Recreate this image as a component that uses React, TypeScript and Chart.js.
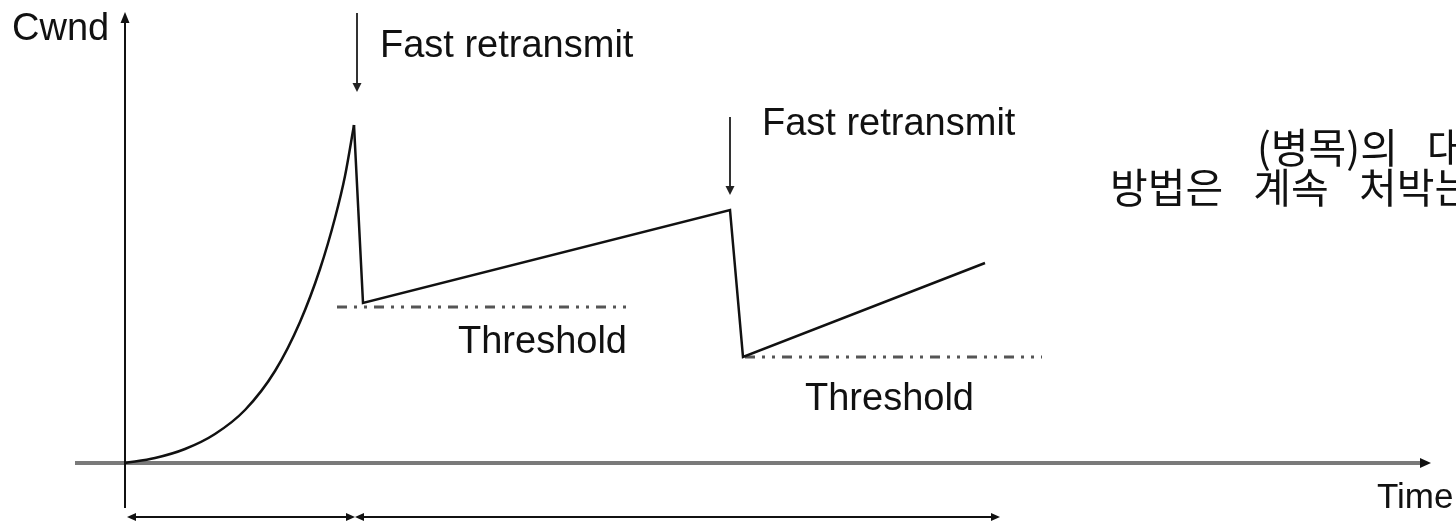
import { useEffect, useRef } from "react";
import { Chart, registerables } from "chart.js";

Chart.register(...registerables);

// Slow start (exponential growth) — time vs. cwnd, origin at the axes crossing
const slowStartTime = [0, 30, 60, 90, 120, 150, 175, 195, 210, 220, 229];
const slowStartCwnd = [0, 5, 14, 29, 53, 92, 141, 194, 245, 287, 338];

// Fast retransmit / congestion avoidance sawtooth
const sawTime = [229, 238, 605, 618, 860];
const sawCwnd = [338, 160, 253, 106, 200];

// Threshold levels
const threshold1Time = [212, 508];
const threshold1Cwnd = [156, 156];
const threshold2Time = [620, 917];
const threshold2Cwnd = [106, 106];

// Annotation texts
const yAxisLabel = "Cwnd";
const xAxisLabel = "Time";
const fastRetransmitLabel = "Fast retransmit";
const thresholdLabel = "Threshold";
const koreanLines = ["(병목)의 대역폭을", "방법은 계속 처박는"];

const toPoints = (xs: number[], ys: number[]) => xs.map((x, i) => ({ x, y: ys[i] }));

const LATIN = '"Liberation Sans", Arial, Helvetica, sans-serif';
const KOREAN = '"Noto Sans CJK KR", "Noto Sans", sans-serif';

function arrowHead(ctx: CanvasRenderingContext2D, x: number, y: number, dx: number, dy: number, len: number, half: number, color: string) {
  const l = Math.hypot(dx, dy);
  const ux = dx / l, uy = dy / l;
  ctx.save();
  ctx.fillStyle = color;
  ctx.beginPath();
  ctx.moveTo(x, y);
  ctx.lineTo(x - ux * len - uy * half, y - uy * len + ux * half);
  ctx.lineTo(x - ux * len + uy * half, y - uy * len - ux * half);
  ctx.closePath();
  ctx.fill();
  ctx.restore();
}

function spacedText(ctx: CanvasRenderingContext2D, text: string, x: number, y: number, extra: number) {
  const words = text.split(" ");
  const sp = ctx.measureText(" ").width + extra;
  let cx = x;
  for (const w of words) {
    ctx.fillText(w, cx, y);
    cx += ctx.measureText(w).width + sp;
  }
}

const diagramPlugin = {
  id: "diagram",
  beforeDraw(chart: any) {
    const ctx = chart.ctx as CanvasRenderingContext2D;
    ctx.save();
    ctx.fillStyle = "#ffffff";
    ctx.fillRect(0, 0, chart.width, chart.height);
    ctx.restore();
  },
  beforeDatasetsDraw(chart: any) {
    const ctx = chart.ctx as CanvasRenderingContext2D;
    const xs = chart.scales.x, ys = chart.scales.y;
    const X = (v: number) => xs.getPixelForValue(v);
    const Y = (v: number) => ys.getPixelForValue(v);
    ctx.save();
    // horizontal (time) axis
    ctx.strokeStyle = "#7a7a7a";
    ctx.lineWidth = 4;
    ctx.beginPath();
    ctx.moveTo(X(-50), Y(0));
    ctx.lineTo(X(1297), Y(0));
    ctx.stroke();
    arrowHead(ctx, X(1306), Y(0), 1, 0, 11, 5, "#111");
    // vertical (cwnd) axis
    ctx.strokeStyle = "#111";
    ctx.lineWidth = 2;
    ctx.beginPath();
    ctx.moveTo(X(0), Y(-45));
    ctx.lineTo(X(0), Y(442));
    ctx.stroke();
    arrowHead(ctx, X(0), Y(451), 0, -1, 11, 4.5, "#111");
    ctx.restore();
  },
  afterDatasetsDraw(chart: any) {
    const ctx = chart.ctx as CanvasRenderingContext2D;
    const xs = chart.scales.x, ys = chart.scales.y;
    const X = (v: number) => xs.getPixelForValue(v);
    const Y = (v: number) => ys.getPixelForValue(v);
    ctx.save();

    // fast retransmit arrows
    const fr = [
      { t: 232, top: 450, bottom: 371, lt: 255, lc: 406 },
      { t: 605, top: 346, bottom: 268, lt: 637, lc: 328 },
    ];
    ctx.strokeStyle = "#333";
    ctx.lineWidth = 2;
    for (const a of fr) {
      ctx.beginPath();
      ctx.moveTo(X(a.t), Y(a.top));
      ctx.lineTo(X(a.t), Y(a.bottom) - 8);
      ctx.stroke();
      arrowHead(ctx, X(a.t), Y(a.bottom), 0, 1, 9, 4.5, "#222");
    }

    // duration arrows below the time axis
    const spans = [
      [2, 230],
      [230, 875],
    ];
    ctx.strokeStyle = "#111";
    ctx.lineWidth = 2;
    for (const [a, b] of spans) {
      ctx.beginPath();
      ctx.moveTo(X(a) + 6, Y(-54));
      ctx.lineTo(X(b) - 6, Y(-54));
      ctx.stroke();
      arrowHead(ctx, X(a), Y(-54), -1, 0, 9, 4, "#111");
      arrowHead(ctx, X(b), Y(-54), 1, 0, 9, 4, "#111");
    }

    // texts
    ctx.fillStyle = "#111";
    ctx.textBaseline = "alphabetic";
    ctx.textAlign = "left";
    ctx.font = `38px ${LATIN}`;
    ctx.fillText(yAxisLabel, X(-113), Y(423));
    ctx.fillText(fastRetransmitLabel, X(fr[0].lt), Y(fr[0].lc));
    ctx.fillText(fastRetransmitLabel, X(fr[1].lt), Y(fr[1].lc));
    ctx.fillText(thresholdLabel, X(333), Y(110));
    ctx.fillText(thresholdLabel, X(680), Y(53));
    ctx.font = `35px ${LATIN}`;
    ctx.fillText(xAxisLabel, X(1252), Y(-45));

    ctx.font = `41px ${KOREAN}`;
    spacedText(ctx, koreanLines[0], X(1132), Y(300), 20);
    spacedText(ctx, koreanLines[1], X(985), Y(260), 21);
    ctx.restore();
  },
};

export default function App() {
  const ref = useRef<HTMLCanvasElement>(null);
  useEffect(() => {
    if (!ref.current) return;
    const lineStyle = {
      showLine: true,
      pointRadius: 0,
      pointHoverRadius: 0,
      fill: false,
    };
    const chart = new Chart(ref.current, {
      type: "scatter",
      data: {
        datasets: [
          {
            ...lineStyle,
            label: "slow start",
            data: toPoints(slowStartTime, slowStartCwnd),
            borderColor: "#111",
            borderWidth: 2.5,
            cubicInterpolationMode: "monotone",
          },
          {
            ...lineStyle,
            label: "congestion avoidance",
            data: toPoints(sawTime, sawCwnd),
            borderColor: "#111",
            borderWidth: 2.5,
            tension: 0,
            borderJoinStyle: "miter",
          },
          {
            ...lineStyle,
            label: "threshold 1",
            data: toPoints(threshold1Time, threshold1Cwnd),
            borderColor: "#555",
            borderWidth: 3,
            borderDash: [10, 7, 3, 7, 3, 7],
          },
          {
            ...lineStyle,
            label: "threshold 2",
            data: toPoints(threshold2Time, threshold2Cwnd),
            borderColor: "#555",
            borderWidth: 3,
            borderDash: [10, 7, 3, 7, 3, 7],
          },
        ] as any,
      },
      options: {
        responsive: false,
        animation: false,
        events: [],
        layout: { padding: 0 },
        plugins: {
          legend: { display: false },
          tooltip: { enabled: false },
        },
        scales: {
          x: { type: "linear", display: false, min: -125, max: 1331 },
          y: { type: "linear", display: false, min: -61, max: 463 },
        },
      },
      plugins: [diagramPlugin],
    });
    return () => chart.destroy();
  }, []);
  return (
    <div
      style={{
        position: "fixed",
        left: 0,
        top: 0,
        width: 1456,
        height: 524,
        overflow: "hidden",
        background: "#fff",
      }}
    >
      <canvas ref={ref} width={1456} height={524} style={{ display: "block" }} />
    </div>
  );
}
